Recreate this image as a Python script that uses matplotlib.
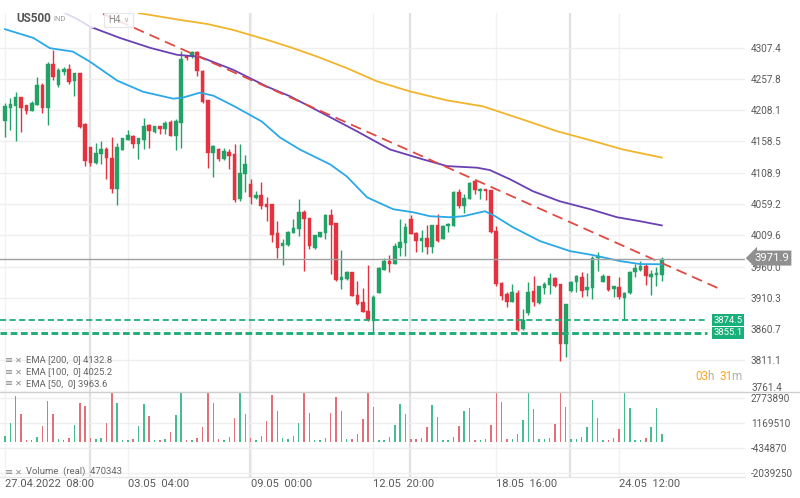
import matplotlib
matplotlib.use('Agg')
import matplotlib.pyplot as plt
from matplotlib.patches import Rectangle
from matplotlib.lines import Line2D
import matplotlib.transforms as mtrans

plt.rcParams['font.family'] = ['Roboto', 'DejaVu Sans']

# ---------------- data ----------------
opens = [4190.5, 4211.6, 4214.2, 4228.4, 4216.9, 4206.3, 4216.9, 4248.5, 4211.6, 4281.7,
         4247.4, 4268.5, 4273.2, 4253.7, 4266.9, 4186.3, 4149.4, 4123.6, 4137.8, 4145.7,
         4131.5, 4082.5, 4144.7, 4161.5, 4166.8, 4153.6, 4160.5, 4185.2, 4173.1, 4183.7,
         4178.9, 4188.9, 4166.8, 4187.9, 4293.3, 4293.3, 4300.1, 4270.6, 4224.8, 4139.4,
         4145.7, 4129.9, 4142.0, 4137.8, 4067.7, 4107.2, 4091.4, 4069.3, 4073.0, 4058.8,
         4058.8, 4012.4, 3992.9, 3994.0, 4012.9, 4020.3, 4047.2, 4036.6, 3989.2, 4006.1,
         4012.4, 4041.4, 4029.8, 3939.2, 3940.2, 3951.8, 3915.4, 3903.3, 3890.2, 3873.3,
         3918.1, 3955.0, 3968.1, 3963.9, 3989.2, 3997.1, 4035.1, 4012.9, 4000.8, 4004.5,
         3990.3, 4026.1, 4003.4, 4023.5, 4024.5, 4078.3, 4056.1, 4066.7, 4095.7, 4079.3,
         4083.5, 4081.4, 4016.6, 3933.9, 3916.5, 3903.3, 3918.1, 3860.1, 3886.5, 3921.8,
         3902.3, 3926.0, 3930.7, 3941.3, 3932.3, 3836.4, 3921.8, 3935.0, 3942.9, 3923.4,
         3926.0, 3972.9, 3935.0, 3944.4, 3924.4, 3927.1, 3909.7, 3918.1, 3951.8, 3955.0,
         3961.3, 3942.9, 3946.5, 3946.5]
highs = [4219.5, 4227.4, 4236.9, 4228.4, 4216.9, 4222.1, 4260.6, 4251.1, 4283.8, 4303.8,
         4274.8, 4275.9, 4281.1, 4266.9, 4266.9, 4187.9, 4149.4, 4155.2, 4158.9, 4149.9,
         4165.7, 4156.3, 4164.2, 4176.3, 4169.4, 4164.2, 4195.8, 4186.3, 4183.7, 4183.7,
         4190.5, 4193.1, 4194.7, 4302.2, 4295.9, 4301.2, 4302.2, 4272.2, 4224.8, 4152.0,
         4148.4, 4147.3, 4145.7, 4153.6, 4153.6, 4136.2, 4099.3, 4079.8, 4094.1, 4070.4,
         4059.8, 4032.4, 4003.4, 4016.6, 4036.1, 4066.7, 4049.3, 4037.7, 4009.8, 4015.0,
         4043.0, 4050.9, 4029.8, 3986.0, 3953.4, 3951.8, 3936.5, 3925.5, 3962.3, 3915.4,
         3959.7, 3973.4, 3978.1, 3996.6, 4036.1, 4028.7, 4041.9, 4014.0, 4017.7, 4025.6,
         4025.6, 4044.0, 4025.6, 4029.8, 4079.8, 4082.5, 4074.6, 4094.1, 4097.2, 4085.1,
         4083.5, 4081.4, 4024.5, 3935.0, 3920.2, 3932.3, 3923.4, 3892.8, 3935.0, 3944.4,
         3929.7, 3935.0, 3949.7, 3942.9, 3932.3, 3900.7, 3937.6, 3946.5, 3951.8, 3949.7,
         3976.1, 3982.4, 3948.1, 3944.4, 3929.7, 3942.9, 3920.2, 3953.4, 3963.9, 3969.2,
         3963.9, 3954.4, 3958.7, 3974.5]
lows = [4165.7, 4177.3, 4158.9, 4173.7, 4202.6, 4206.3, 4216.9, 4203.7, 4184.2, 4256.4,
        4244.8, 4264.3, 4249.5, 4231.1, 4180.0, 4119.4, 4119.4, 4122.0, 4122.0, 4099.4,
        4076.2, 4057.7, 4144.7, 4161.5, 4148.4, 4131.0, 4145.7, 4148.4, 4172.1, 4171.0,
        4171.0, 4166.8, 4144.7, 4148.4, 4288.0, 4290.6, 4262.7, 4219.5, 4116.7, 4102.0,
        4127.3, 4128.9, 4114.1, 4062.5, 4064.0, 4078.3, 4059.8, 4066.7, 4051.9, 4032.4,
        3998.2, 3973.4, 3962.9, 3992.9, 4012.9, 4007.7, 3953.4, 3987.6, 3987.6, 4006.1,
        4003.4, 3948.1, 3937.6, 3924.4, 3939.2, 3913.9, 3899.6, 3887.5, 3874.3, 3855.9,
        3918.1, 3955.0, 3951.8, 3963.9, 3977.1, 3977.1, 4011.3, 3983.4, 3983.4, 3979.7,
        3980.8, 3999.2, 4003.4, 4014.0, 4024.5, 4053.5, 4045.6, 4066.7, 4074.6, 4066.7,
        4065.6, 4012.9, 3929.7, 3907.6, 3895.4, 3903.3, 3857.0, 3858.6, 3882.3, 3898.1,
        3900.7, 3916.5, 3916.5, 3927.1, 3809.6, 3816.4, 3920.2, 3920.2, 3912.3, 3913.9,
        3908.6, 3953.4, 3935.0, 3921.8, 3911.2, 3908.6, 3874.4, 3916.5, 3942.9, 3953.4,
        3930.7, 3914.9, 3929.7, 3937.6]
closes = [4214.2, 4217.9, 4228.4, 4211.6, 4206.3, 4219.5, 4248.5, 4211.6, 4281.7, 4260.6,
          4271.1, 4273.8, 4252.2, 4266.9, 4181.6, 4127.3, 4124.6, 4140.5, 4146.8, 4131.5,
          4082.5, 4149.4, 4163.1, 4168.4, 4153.6, 4163.1, 4183.7, 4174.7, 4182.6, 4178.4,
          4187.9, 4166.8, 4190.5, 4289.0, 4290.6, 4300.1, 4269.5, 4221.1, 4140.5, 4151.0,
          4129.9, 4143.1, 4135.2, 4065.6, 4108.8, 4122.0, 4070.9, 4073.0, 4056.1, 4055.1,
          4010.3, 3989.2, 3996.6, 4015.0, 4021.4, 4047.2, 4035.1, 3991.8, 4009.8, 4014.0,
          4041.9, 4025.6, 3939.2, 3943.9, 3951.8, 3913.9, 3900.7, 3888.6, 3875.9, 3912.3,
          3957.1, 3968.1, 3963.9, 3992.9, 3998.2, 4022.9, 4011.3, 4000.8, 4004.5, 3990.3,
          4025.6, 4000.8, 4024.5, 4027.1, 4078.3, 4056.1, 4069.3, 4093.0, 4081.4, 4083.5,
          4079.3, 4014.0, 3932.3, 3913.9, 3903.3, 3920.2, 3858.6, 3875.9, 3920.2, 3904.4,
          3928.6, 3932.3, 3941.3, 3929.7, 3836.4, 3900.7, 3935.0, 3945.5, 3921.8, 3927.1,
          3972.9, 3977.1, 3944.4, 3923.4, 3928.6, 3911.2, 3918.1, 3951.8, 3957.1, 3961.3,
          3944.4, 3948.1, 3949.2, 3971.9]
volumes = [353000, 1210000, 2940000, 1760000, 96000, 96000, 289000, 995000, 2600000, 1760000,
           139000, 96000, 225000, 1060000, 2490000, 2280000, 203000, 139000, 203000, 1210000,
           3150000, 2490000, 96000, 96000, 182000, 995000, 2410000, 1640000, 96000, 75000,
           139000, 610000, 1680000, 3150000, 96000, 75000, 225000, 930000, 3150000, 2490000,
           139000, 96000, 289000, 1490000, 3150000, 1740000, 203000, 96000, 353000, 1320000,
           2980000, 1960000, 225000, 182000, 353000, 1210000, 3150000, 1830000, 96000, 96000,
           225000, 1830000, 2860000, 1960000, 182000, 139000, 481000, 1420000, 3150000, 2210000,
           96000, 96000, 267000, 1040000, 2410000, 1740000, 160000, 160000, 203000, 930000,
           2340000, 1570000, 96000, 96000, 289000, 995000, 1960000, 2130000, 75000, 75000,
           160000, 1040000, 3150000, 2560000, 182000, 182000, 460000, 1380000, 3150000, 2060000,
           139000, 139000, 225000, 1100000, 3150000, 2210000, 139000, 139000, 289000, 930000,
           2660000, 1490000, 96000, 75000, 225000, 824000, 3150000, 2170000, 96000, 96000,
           225000, 930000, 2170000, 470343]

ema200_idx = [25, 27.2, 32.8, 37.8, 42.7, 49.1, 53.4, 58.4, 64, 69.7, 75.8, 82.8, 89.5, 97,
              103.4, 109.6, 115.7, 123]
ema200_val = [4362.0, 4359.1, 4351.2, 4344.9, 4335.4, 4319.6, 4308.0, 4293.2, 4274.8, 4253.7,
              4237.9, 4223.6, 4214.1, 4193.1, 4174.6, 4160.4, 4145.7, 4132.8]
ema100_idx = [11, 13.5, 15.9, 21.5, 27.2, 32.2, 36.5, 42.7, 49.1, 53.4, 59.6, 65.9, 72.1, 78.3,
              82.8, 88.4, 90.8, 94.6, 98.9, 103.9, 109.6, 114.6, 118.9, 123]
ema100_val = [4363.0, 4352.7, 4340.6, 4322.7, 4306.9, 4295.9, 4292.7, 4272.2, 4245.3, 4230.0,
              4202.6, 4174.6, 4145.7, 4129.9, 4119.3, 4116.8, 4113.0, 4098.3, 4079.3, 4063.5,
              4050.9, 4038.2, 4031.9, 4025.2]
ema50_idx = [0, 5.3, 8.4, 12.7, 15.9, 21, 25.8, 31.5, 33.3, 36.5, 39, 43, 48.1, 51.5, 55.2,
             60.9, 64, 67.8, 72.7, 76.4, 79.6, 83.3, 85.8, 89.9, 91.8, 95.1, 100.2, 105.8,
             110.1, 115.2, 118.9, 123]
ema50_val = [4336.5, 4322.7, 4306.4, 4301.0, 4285.0, 4255.0, 4237.4, 4226.3, 4227.9, 4235.8,
             4231.1, 4214.0, 4190.0, 4164.7, 4145.7, 4122.0, 4103.0, 4069.8, 4050.9, 4046.1,
             4039.8, 4038.2, 4039.8, 4047.7, 4039.8, 4022.4, 4000.3, 3984.5, 3978.1, 3968.6,
             3963.9, 3963.6]

support_levels = [3874.5, 3855.1]
last_price = 3971.9
trend_idx = [18.35, 133.5]
trend_val = [4360.7, 3925.8]

price_ticks = [4307.4, 4257.8, 4208.1, 4158.5, 4108.9, 4059.2, 4009.6, 3960.0, 3910.3,
               3860.7, 3811.1, 3761.4]
vol_ticks = [2773890, 1169510, -434870, -2039250]
x_label_idx = [0, 23, 46, 69, 92, 115]
x_labels = ['27.04.2022  08:00', '03.05  04:00', '09.05  00:00', '12.05  20:00',
            '18.05  16:00', '24.05  12:00']
week_grid_idx = [15.9, 45.9, 75.8, 105.8]

# ---------------- styling ----------------
GREEN = '#23a268'
RED = '#e5323f'
VGREEN = '#45bd8f'
VRED = '#e2707a'
TXT = '#5a5a5a'

W, H = 800, 498
fig = plt.figure(figsize=(W / 100, H / 100), dpi=100)
fig.patch.set_facecolor('white')


def fx(px):
    return px / W


def fy(py):
    return 1 - py / H


ax = fig.add_axes([0, fy(391.7), fx(745), (391.7 - 13) / H])
axv = fig.add_axes([0, fy(476.7), fx(745), (476.7 - 391.7) / H], sharex=ax)

for a in (ax, axv):
    for s in a.spines.values():
        s.set_visible(False)
    a.set_facecolor('none')
    a.yaxis.tick_right()
    a.tick_params(axis='y', length=0, pad=4.3, labelsize=7.2, labelcolor=TXT)
    a.tick_params(axis='x', length=0)
    for gx in week_grid_idx:
        a.axvline(gx, color='#e1e1e1', lw=1.6, zorder=0)
    for gx in x_label_idx:
        a.axvline(gx, color='#f2f2f2', lw=1.0, zorder=0)

ax.set_xlim(-0.936, 138.58)
ax.set_ylim(3763.7, 4362.2)
ax.set_yticks(price_ticks)
# lowest price label is lifted a little (as in the reference) so it clears the volume scale
ax.set_yticklabels([f'{t:.1f}' for t in price_ticks[:-1]] + [''])
ax.grid(axis='y', color='#efefef', lw=1.0, zorder=0)
ax.tick_params(axis='x', labelbottom=False)
fig.text(fx(751), fy(388), f'{price_ticks[-1]:.1f}', fontsize=7.2, color=TXT, va='center')

# candles
n = len(opens)
idx = list(range(n))
for i in idx:
    o, h, l, c = opens[i], highs[i], lows[i], closes[i]
    col = GREEN if c >= o else RED
    ax.vlines(i, l, h, color=col, lw=1.0, zorder=3)
    bot = min(o, c)
    ht = max(abs(c - o), 2.0)
    ax.bar(i, ht, bottom=bot, width=0.68, color=col, edgecolor=col, lw=0.3, zorder=4)

# EMAs
ax.plot(ema200_idx, ema200_val, color='#f1b52c', lw=1.3, zorder=5)
ax.plot(ema100_idx, ema100_val, color='#6a40b3', lw=1.3, zorder=5)
ax.plot(ema50_idx, ema50_val, color='#2ba8e8', lw=1.3, zorder=5)

# support lines
ax.axhline(support_levels[0], xmin=0, xmax=707 / 745, color='#1fae78', lw=1.3,
           ls=(0, (3.4, 1.9)), zorder=6)
ax.axhline(support_levels[1], xmin=0, xmax=707 / 745, color='#1fae78', lw=2.1,
           ls=(0, (2.3, 1.2)), zorder=6)
# trend line
ax.plot(trend_idx, trend_val, color='#e04a42', lw=1.3, ls=(0, (6.0, 3.4)), zorder=6)
# last price line
ax.axhline(last_price, color='#a0a0a0', lw=1.0, zorder=6)

blend = mtrans.blended_transform_factory(ax.transAxes, ax.transData)
for lv in support_levels:
    ax.text(743 / 745, lv, f'{lv:.1f}', transform=blend, ha='right', va='center',
            color='white', fontsize=6.8, zorder=10, clip_on=False,
            bbox=dict(boxstyle='square,pad=0.15', fc='#17b07a', ec='none'))
ax.text(754 / 745, last_price + 1.5, f'{last_price:.1f}', transform=blend, ha='left',
        va='center', color='white', fontsize=8.2, zorder=10, clip_on=False,
        bbox=dict(boxstyle='larrow,pad=0.22', fc='#8f8f8f', ec='none'))

# volume panel
axv.set_ylim(-2259000, 3196000)
axv.set_yticks(vol_ticks)
axv.set_yticklabels([str(v) for v in vol_ticks])
axv.grid(axis='y', color='#efefef', lw=1.0, zorder=0)
vcols = [VGREEN if closes[i] >= opens[i] else VRED for i in idx]
axv.bar(idx, volumes, width=0.28, color=vcols, zorder=3)
axv.set_xticks(x_label_idx)
axv.set_xticklabels(x_labels, ha='left', fontsize=8, color=TXT)
axv.tick_params(axis='x', pad=2.0)

# panel separator lines
fig.add_artist(Line2D([0, 1], [fy(391.7), fy(391.7)], color='#cfcfcf', lw=1.0,
                      transform=fig.transFigure))
fig.add_artist(Line2D([0, fx(745)], [fy(476.7), fy(476.7)], color='#e6e6e6', lw=1.0,
                      transform=fig.transFigure))

# header
fig.add_artist(Rectangle((fx(8), fy(28)), 86 / W, 21 / H, transform=fig.transFigure,
                         facecolor='white', edgecolor='none', alpha=0.8, zorder=20))
fig.add_artist(Rectangle((fx(104), fy(27)), 29 / W, 14 / H, transform=fig.transFigure,
                         facecolor='white', edgecolor='#e2e2e2', lw=0.8, alpha=0.85,
                         zorder=20))
fig.text(fx(16), fy(18), 'US500', fontsize=8.5, fontweight='bold', color='#555555',
         va='center', zorder=21)
fig.text(fx(53), fy(19), 'IND', fontsize=5.5, color='#9a9a9a', va='center', zorder=21)
fig.text(fx(108), fy(20), 'H4', fontsize=7, color='#8a8a8a', va='center', zorder=21)
fig.text(fx(123), fy(20), '∨', fontsize=5, color='#aaaaaa', va='center', zorder=21)

# legends
leg = [('EMA [200,  0] ', ema200_val[-1]), ('EMA [100,  0] ', ema100_val[-1]),
       ('EMA [50,  0] ', ema50_val[-1])]
for k, (lbl, val) in enumerate(leg):
    yy = 360 + 11.6 * k
    fig.text(fx(5), fy(yy), '≡', fontsize=7, color='#8a8a8a', va='center',
             family=['DejaVu Sans'])
    fig.text(fx(15), fy(yy), '✕', fontsize=6, color='#8a8a8a', va='center',
             family=['DejaVu Sans'])
    fig.text(fx(26), fy(yy), f'{lbl}{val:.1f}', fontsize=6.8, color='#666666', va='center')
fig.text(fx(5), fy(471.7), '≡', fontsize=7, color='#8a8a8a', va='center',
         family=['DejaVu Sans'])
fig.text(fx(15), fy(471.7), '✕', fontsize=6, color='#8a8a8a', va='center',
         family=['DejaVu Sans'])
fig.text(fx(26), fy(471.7), f'Volume  (real)  {volumes[-1]}', fontsize=6.8,
         color='#666666', va='center')

# countdown
fig.text(fx(695), fy(377), '03', fontsize=8.5, color='#f5a623', va='center')
fig.text(fx(707), fy(377), 'h', fontsize=8.5, color='#b0b0b0', va='center')
fig.text(fx(719), fy(377), '31', fontsize=8.5, color='#f5a623', va='center')
fig.text(fx(731), fy(377), 'm', fontsize=8.5, color='#b0b0b0', va='center')

fig.savefig('out.png', dpi=100, facecolor='white')
